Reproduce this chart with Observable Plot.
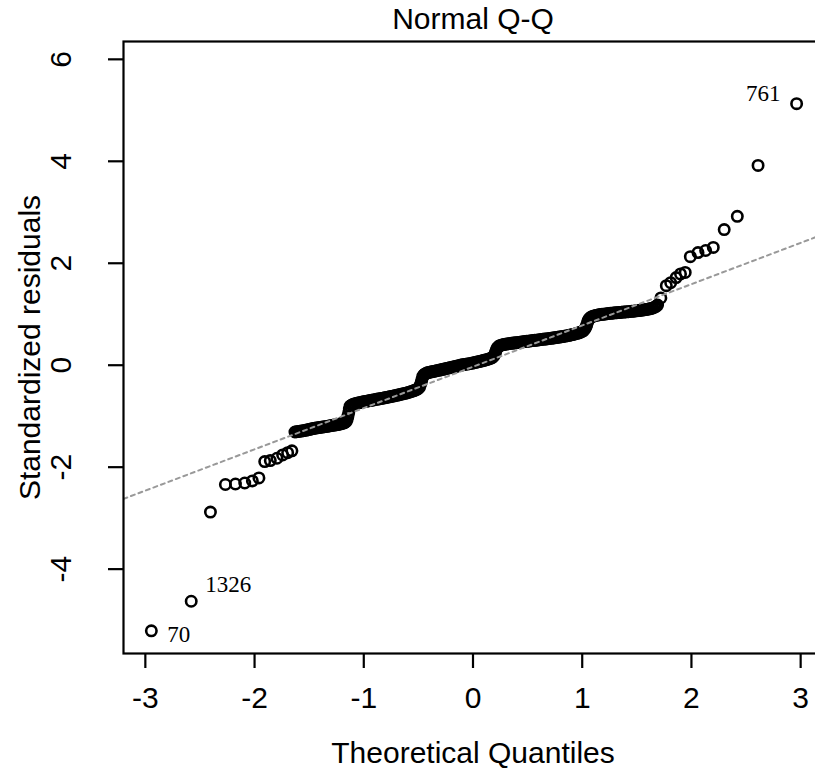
<!DOCTYPE html>
<html><head><meta charset="utf-8">
<script src="https://cdn.jsdelivr.net/npm/d3@7"></script>
<script src="https://cdn.jsdelivr.net/npm/@observablehq/plot@0.6"></script>
<style>
html,body{margin:0;padding:0;background:#fff;}
#chart svg{display:block;overflow:hidden;}
</style></head><body><div id="chart"></div>
<script>
// Theoretical quantiles (x) and standardized residuals (y)
const quantiles = [
  // lower tail
  -2.945,-2.58,-2.404,-2.267,-2.175,-2.09,-2.02,-1.96,-1.907,-1.856,-1.795,-1.743,-1.697,-1.658,
  // band, step 1
  -1.630,-1.615,-1.600,-1.585,-1.570,-1.555,-1.540,-1.525,-1.510,-1.495,-1.480,-1.465,-1.450,-1.435,-1.420,-1.405,-1.390,-1.375,-1.360,-1.345,
  -1.330,-1.315,-1.300,-1.285,-1.270,-1.255,-1.240,-1.225,-1.210,-1.195,-1.180,-1.170,-1.160,-1.152,-1.145,-1.138,-1.132,
  // step 2
  -1.125,-1.110,-1.095,-1.080,-1.065,-1.050,-1.035,-1.020,-1.005,-0.990,-0.975,-0.960,-0.945,-0.930,-0.915,-0.900,-0.885,-0.870,-0.855,-0.840,
  -0.825,-0.810,-0.795,-0.780,-0.765,-0.750,-0.735,-0.720,-0.705,-0.690,-0.675,-0.660,-0.645,-0.630,-0.615,-0.600,-0.585,-0.570,-0.555,-0.540,
  -0.525,-0.510,-0.500,-0.490,-0.482,-0.475,-0.468,
  // step 3
  -0.460,-0.450,-0.440,-0.425,-0.410,-0.395,-0.380,-0.365,-0.350,-0.335,-0.320,-0.305,-0.290,-0.275,-0.260,-0.245,-0.230,-0.215,-0.200,-0.185,
  -0.170,-0.155,-0.140,-0.125,-0.110,-0.095,-0.080,-0.065,-0.050,-0.035,-0.020,-0.005,0.010,0.025,0.040,0.055,0.070,0.085,0.100,0.115,
  0.130,0.145,0.160,0.175,0.188,0.198,0.206,0.213,
  // step 4
  0.222,0.235,0.250,0.265,0.280,0.295,0.310,0.325,0.340,0.355,0.370,0.385,0.400,0.415,0.430,0.445,0.460,0.475,0.490,0.505,
  0.520,0.535,0.550,0.565,0.580,0.595,0.610,0.625,0.640,0.655,0.670,0.685,0.700,0.715,0.730,0.745,0.760,0.775,0.790,0.805,
  0.820,0.835,0.850,0.865,0.880,0.895,0.910,0.925,0.940,0.955,0.970,0.985,1.000,1.012,1.022,1.032,1.040,1.047,
  // step 5
  1.055,1.065,1.078,1.092,1.107,1.122,1.137,1.152,1.167,1.182,1.197,1.212,1.227,1.242,1.257,1.272,1.287,1.302,1.317,1.332,
  1.347,1.362,1.377,1.392,1.407,1.422,1.437,1.452,1.467,1.482,1.497,1.512,1.527,1.542,1.557,1.572,1.587,1.602,1.617,1.632,
  1.647,1.662,1.676,1.690,
  // upper tail
  1.72,1.77,1.81,1.86,1.90,1.943,1.99,2.06,2.13,2.20,2.30,2.42,2.61,2.963
];
const residuals = [
  -5.21,-4.63,-2.88,-2.34,-2.33,-2.31,-2.27,-2.21,-1.89,-1.87,-1.825,-1.76,-1.715,-1.68,
  -1.310,-1.305,-1.300,-1.295,-1.290,-1.285,-1.280,-1.272,-1.265,-1.258,-1.250,-1.243,-1.235,-1.230,-1.225,-1.220,-1.215,-1.210,-1.205,-1.200,
  -1.195,-1.190,-1.185,-1.180,-1.175,-1.170,-1.165,-1.158,-1.150,-1.140,-1.130,-1.115,-1.100,-1.060,-1.000,-0.930,-0.860,
  -0.800,-0.780,-0.765,-0.755,-0.748,-0.740,-0.733,-0.726,-0.719,-0.712,-0.705,-0.700,-0.694,-0.688,-0.682,-0.676,-0.670,-0.665,-0.658,-0.652,
  -0.646,-0.640,-0.633,-0.626,-0.620,-0.614,-0.608,-0.600,-0.593,-0.586,-0.578,-0.570,-0.563,-0.555,-0.548,-0.540,-0.530,-0.520,-0.510,-0.498,
  -0.485,-0.470,-0.455,-0.430,-0.390,-0.340,-0.280,
  -0.220,-0.190,-0.170,-0.155,-0.145,-0.137,-0.130,-0.123,-0.116,-0.109,-0.102,-0.095,-0.088,-0.080,-0.073,-0.065,-0.058,-0.050,-0.043,-0.036,
  -0.028,-0.021,-0.013,-0.006,0.002,0.008,0.014,0.020,0.025,0.030,0.036,0.042,0.050,0.057,0.064,0.071,0.079,0.087,0.095,0.103,
  0.112,0.122,0.134,0.150,0.172,0.205,0.250,0.300,
  0.340,0.370,0.388,0.398,0.405,0.411,0.416,0.421,0.426,0.430,0.435,0.439,0.443,0.447,0.451,0.455,0.460,0.464,0.468,0.472,
  0.476,0.480,0.484,0.488,0.492,0.496,0.500,0.504,0.508,0.512,0.516,0.520,0.524,0.528,0.532,0.537,0.542,0.547,0.552,0.557,
  0.562,0.568,0.574,0.580,0.587,0.594,0.601,0.609,0.617,0.626,0.636,0.648,0.662,0.680,0.705,0.740,0.780,0.830,
  0.880,0.915,0.940,0.955,0.966,0.975,0.982,0.988,0.993,0.998,1.002,1.006,1.010,1.014,1.018,1.021,1.024,1.027,1.030,1.033,
  1.036,1.039,1.042,1.045,1.048,1.051,1.054,1.057,1.060,1.063,1.067,1.071,1.075,1.079,1.083,1.088,1.093,1.099,1.106,1.114,
  1.124,1.137,1.155,1.180,
  1.32,1.56,1.62,1.72,1.79,1.82,2.13,2.21,2.25,2.31,2.66,2.92,3.92,5.13
];
// Identified observations (index into the arrays above)
const idLabels = ["70", "1326", "761"];
const idPoints = [0, 1, quantiles.length - 1];
// Reference line (qqline)
const qqSlope = 0.81;
const qqIntercept = -0.03;
// Axes
const xTicks = [-3, -2, -1, 0, 1, 2, 3];
const yTicks = [-4, -2, 0, 2, 4, 6];
const xDomain = [-3.2, 3.2];
const yDomain = [-5.655, 6.35];
const titleText = "Normal Q-Q";
const xLabel = "Theoretical Quantiles";
const yLabel = "Standardized residuals";

const pts = quantiles.map((q, i) => ({q, r: residuals[i]}));
const lineData = xDomain.map(q => ({q, r: qqIntercept + qqSlope * q}));
const ids = idLabels.map((t, k) => ({t, q: quantiles[idPoints[k]], r: residuals[idPoints[k]]}));

const sans = "'Liberation Sans', Arial, Helvetica, sans-serif";
const serif = "'Liberation Serif', 'Times New Roman', serif";

const chart = Plot.plot({
  width: 815, height: 771,
  marginLeft: 123, marginRight: -7, marginTop: 41, marginBottom: 118,
  x: {domain: xDomain},
  y: {domain: yDomain},
  style: {fontFamily: sans, background: "white", overflow: "hidden"},
  marks: [
    Plot.dot(pts, {x: "q", y: "r", r: 5.2, stroke: "black", strokeWidth: 2.6, fill: "none"}),
    Plot.line(lineData, {x: "q", y: "r", stroke: "#999999", strokeWidth: 2, strokeDasharray: "4,4", clip: true}),
    Plot.frame({stroke: "black", strokeWidth: 2.2}),
    Plot.axisX(xTicks, {tickSize: 15, strokeWidth: 2.2, tickFormat: () => "", label: null}),
    Plot.axisY(yTicks, {tickSize: 15, strokeWidth: 2.2, tickFormat: () => "", label: null}),
    Plot.text(xTicks, {x: d => d, text: d => String(d), frameAnchor: "bottom", lineAnchor: "middle", dy: 45, fontSize: 30, fill: "black"}),
    Plot.text(yTicks, {y: d => d, text: d => String(d), frameAnchor: "left", textAnchor: "middle", lineAnchor: "middle", dx: -62, rotate: -90, fontSize: 30, fill: "black"}),
    Plot.text([{t: titleText, q: 0}], {x: "q", text: "t", frameAnchor: "top", lineAnchor: "middle", dy: -22, fontSize: 30, fill: "black"}),
    Plot.text([{t: xLabel, q: 0}], {x: "q", text: "t", frameAnchor: "bottom", lineAnchor: "middle", dy: 100, fontSize: 30, fill: "black"}),
    Plot.text([yLabel], {text: d => d, frameAnchor: "left", textAnchor: "middle", lineAnchor: "middle", dx: -93, rotate: -90, fontSize: 30, fill: "black"}),
    Plot.text(ids.filter(d => d.t === "761"), {x: "q", y: "r", text: "t", textAnchor: "end", lineAnchor: "middle", dx: -16, dy: -10, fontSize: 23, fontFamily: serif, fill: "black"}),
    Plot.text(ids.filter(d => d.t === "1326"), {x: "q", y: "r", text: "t", textAnchor: "start", lineAnchor: "middle", dx: 14, dy: -17, fontSize: 23, fontFamily: serif, fill: "black"}),
    Plot.text(ids.filter(d => d.t === "70"), {x: "q", y: "r", text: "t", textAnchor: "start", lineAnchor: "middle", dx: 16, dy: 4, fontSize: 23, fontFamily: serif, fill: "black"})
  ]
});
document.getElementById("chart").appendChild(chart);
</script>
</body></html>
